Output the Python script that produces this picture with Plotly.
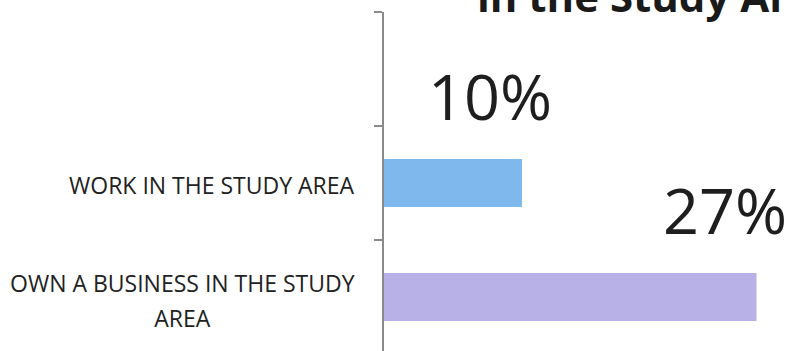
import plotly.graph_objects as go

# Survey responses, bottom-to-top order on the axis
categories = ["OWN A BUSINESS IN THE STUDY AREA", "WORK IN THE STUDY AREA"]
label_lines = [["OWN A BUSINESS IN THE STUDY", "AREA"], ["WORK IN THE STUDY AREA"]]
values = [27, 10]
value_labels = ["27%", "10%"]
bar_colors = ["#b8b1e8", "#7eb8ec"]
title_text = "in the Study Area"

positions = list(range(len(categories)))

fig = go.Figure()
fig.add_trace(go.Bar(
    y=positions,
    x=values,
    orientation="h",
    width=0.42,
    marker=dict(color=bar_colors, line=dict(width=0)),
    hoverinfo="skip",
    showlegend=False,
))

annotations = []
# Category labels on the left of the axis (wrapped labels centred line by line)
label_size = 23
for pos, lines in zip(positions, label_lines):
    text = "<br>".join(f"<span style='font-size:{label_size}px'>{ln}</span>" for ln in lines)
    annotations.append(dict(
        xref="paper", yref="y", x=0, y=pos, xanchor="right", yanchor="middle",
        xshift=-27, yshift=-4 if len(lines) > 1 else -2,
        text=text, showarrow=False, align="center",
        font=dict(family="Open Sans", size=27 if len(lines) > 1 else label_size, color="#222222"),
    ))

# Large percentage labels above each bar
for pos, val, lab in zip(positions, values, value_labels):
    annotations.append(dict(
        xref="x", yref="y", x=val, y=pos, xanchor="center", yanchor="middle",
        xshift=-32, yshift=87,
        text=lab, showarrow=False,
        font=dict(family="Open Sans", size=63, color="#1e1e1e"),
    ))

# Chart title running off the top edge
annotations.append(dict(
    xref="paper", yref="paper", x=0.226, y=1, xanchor="left", yanchor="bottom",
    yshift=-14, text=f"<b>{title_text}</b>", showarrow=False,
    font=dict(family="Open Sans", size=42, color="#1a1a1a"),
))

fig.update_layout(
    width=788, height=351,
    margin=dict(l=384, r=0, t=12, b=0, pad=0),
    paper_bgcolor="white", plot_bgcolor="white",
    xaxis=dict(range=[0, 29.28], visible=False),
    yaxis=dict(
        range=[-0.474, 2.5],
        tickvals=[0.5, 1.5, 2.5],
        showticklabels=False,
        ticks="outside", ticklen=8, tickwidth=1.5, tickcolor="#8a8a8a",
        showline=True, linecolor="#8a8a8a", linewidth=1.5,
        showgrid=False, zeroline=False,
    ),
    annotations=annotations,
)

fig.write_html("out.html")
